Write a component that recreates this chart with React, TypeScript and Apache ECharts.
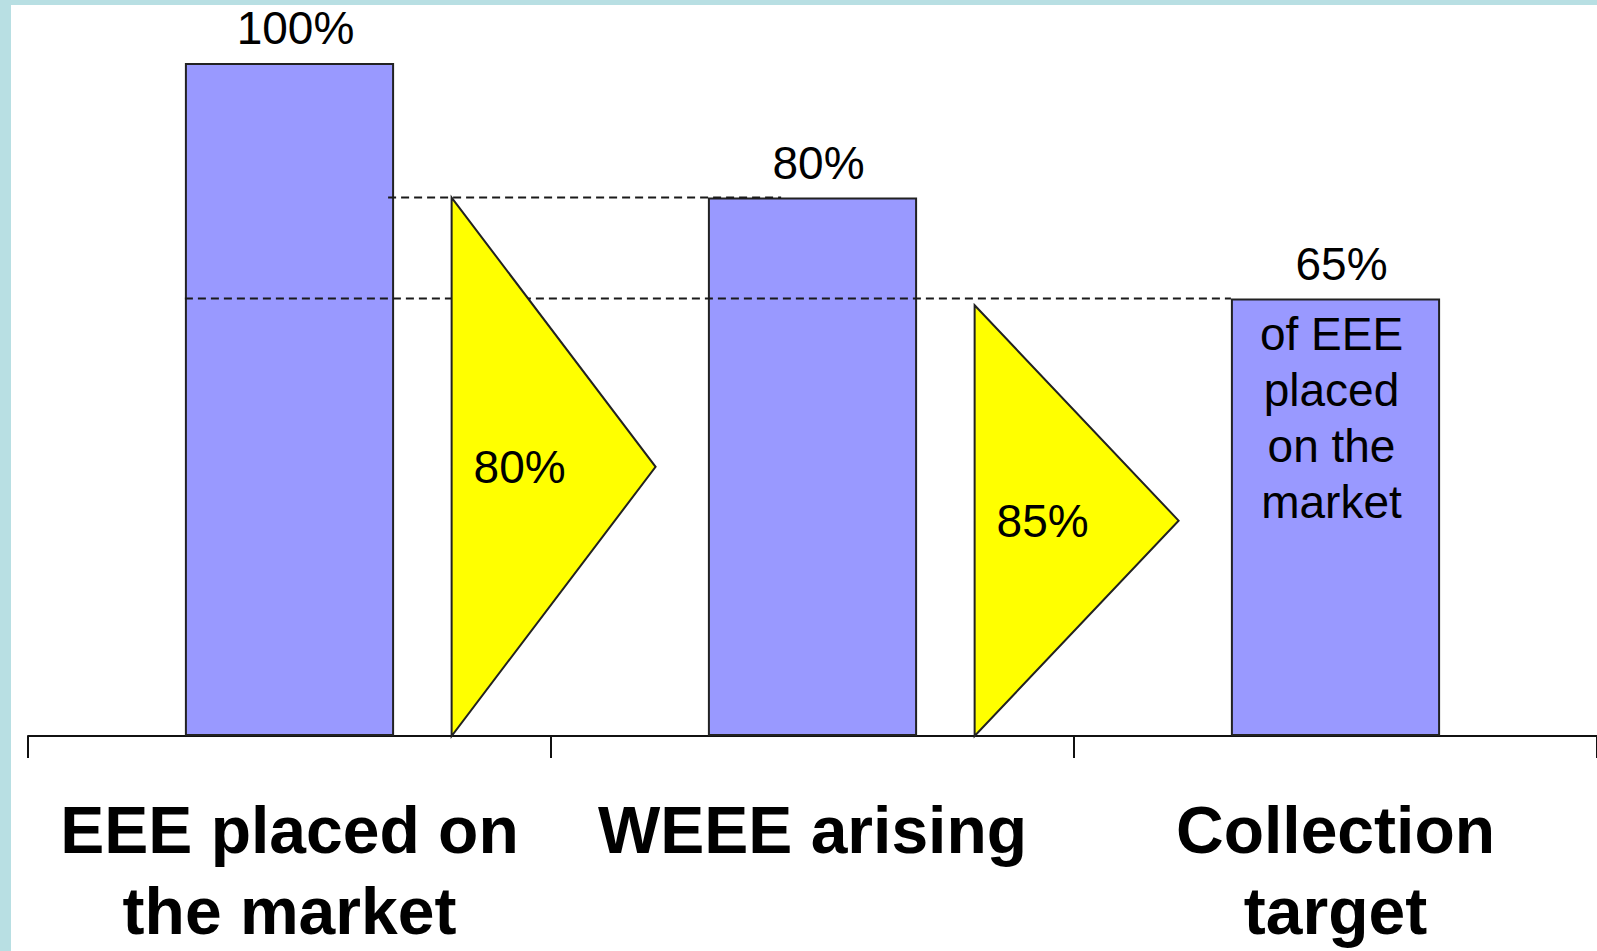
import React, { useEffect, useRef } from "react";
import * as echarts from "echarts";

const categories = ["EEE placed on\nthe market", "WEEE arising", "Collection\ntarget"];
const barValues = [100, 80, 65];
const barLabels = ["100%", "80%", "65%"];
const arrowTops = [80, 64];
const arrowLabels = ["80%", "85%"];
const guideLevels = [80, 65];
const noteIndex = 2;
const noteText = "of EEE\nplaced\non the\nmarket";

const FONT = "'Liberation Sans', Arial, Helvetica, sans-serif";
const BAR_FRAC = 0.4;

export default function App() {
  const ref = useRef<HTMLDivElement>(null);

  useEffect(() => {
    if (!ref.current) return;
    const chart = echarts.init(ref.current, null, { renderer: "svg" });

    const option: any = {
      animation: false,
      backgroundColor: "#ffffff",
      graphic: [
        { type: "rect", shape: { x: 0, y: 0, width: 11, height: 951 }, style: { fill: "#B8DFE3" }, silent: true },
        { type: "rect", shape: { x: 0, y: 0, width: 1597, height: 5 }, style: { fill: "#B8DFE3" }, silent: true },
      ],
      grid: { left: 28, right: 0, top: 63, bottom: 213, containLabel: false },
      xAxis: {
        type: "category",
        data: categories,
        boundaryGap: true,
        axisLine: { show: true, lineStyle: { color: "#111", width: 2 } },
        axisTick: { show: true, length: 22, interval: 0, alignWithLabel: false, lineStyle: { color: "#111", width: 2 } },
        axisLabel: {
          interval: 0,
          margin: 53,
          color: "#000",
          fontFamily: FONT,
          fontWeight: "bold",
          fontSize: 66,
          lineHeight: 81,
        },
      },
      yAxis: {
        type: "value",
        min: 0,
        max: 100,
        show: false,
        splitLine: { show: false },
      },
      series: [
        {
          type: "bar",
          z: 2,
          data: barValues,
          barWidth: BAR_FRAC * 100 + "%",
          itemStyle: { color: "#9999FF", borderColor: "#222", borderWidth: 2 },
          label: {
            show: true,
            position: "top",
            distance: 12,
            offset: [6, 0],
            formatter: (p: any) => barLabels[p.dataIndex],
            color: "#000",
            fontFamily: FONT,
            fontSize: 46,
            lineHeight: 46,
          },
        },
        {
          type: "custom",
          name: "guides",
          z: 3,
          clip: false,
          silent: true,
          data: guideLevels.map((v, i) => [i, v]),
          renderItem: (params: any, api: any) => {
            const idx = params.dataIndex;
            const level = api.value(1);
            const band = api.size([1, 0])[0];
            const half = (band * BAR_FRAC) / 2;
            const y = api.coord([0, level])[1];
            const c0 = api.coord([0, level])[0];
            const c1 = api.coord([1, level])[0];
            const c2 = api.coord([2, level])[0];
            let x1: number, x2: number;
            if (idx === 0) {
              x1 = c0 + half - 6;
              x2 = c1 - 0.06 * band;
            } else {
              x1 = c0 - half;
              x2 = c2 - half;
            }
            return {
              type: "line",
              shape: { x1, y1: y, x2, y2: y },
              style: { stroke: "#1a1a1a", lineWidth: 2, lineDash: [8, 5] },
            };
          },
        },
        {
          type: "custom",
          name: "arrows",
          z: 4,
          clip: false,
          silent: true,
          data: arrowTops.map((v, i) => [i, v]),
          renderItem: (params: any, api: any) => {
            const ci = api.value(0);
            const topV = api.value(1);
            const band = api.size([1, 0])[0];
            const center = api.coord([ci, 0])[0];
            const boundary = center + band / 2;
            const left = boundary - 0.19 * band;
            const w = 0.39 * band;
            const yTop = api.coord([ci, topV])[1];
            const yBot = api.coord([ci, 0])[1];
            const yMid = (yTop + yBot) / 2;
            return {
              type: "group",
              children: [
                {
                  type: "polygon",
                  shape: { points: [[left, yTop], [left + w, yMid], [left, yBot]] },
                  style: { fill: "#FFFF00", stroke: "#222", lineWidth: 2 },
                },
                {
                  type: "text",
                  style: {
                    text: arrowLabels[params.dataIndex],
                    x: left + w / 3,
                    y: yMid,
                    align: "center",
                    verticalAlign: "middle",
                    fill: "#000",
                    fontFamily: FONT,
                    fontSize: 46,
                  },
                },
              ],
            };
          },
        },
        {
          type: "custom",
          name: "note",
          z: 5,
          clip: false,
          silent: true,
          data: [[noteIndex, barValues[noteIndex]]],
          renderItem: (params: any, api: any) => {
            const p = api.coord([api.value(0), api.value(1)]);
            return {
              type: "text",
              style: {
                text: noteText,
                x: p[0] - 4,
                y: p[1] + 7,
                align: "center",
                verticalAlign: "top",
                fill: "#000",
                fontFamily: FONT,
                fontSize: 46,
                lineHeight: 56,
              },
            };
          },
        },
      ],
    };

    chart.setOption(option);
    return () => chart.dispose();
  }, []);

  return (
    <div
      ref={ref}
      style={{ position: "fixed", left: 0, top: 0, width: 1597, height: 951 }}
    />
  );
}
